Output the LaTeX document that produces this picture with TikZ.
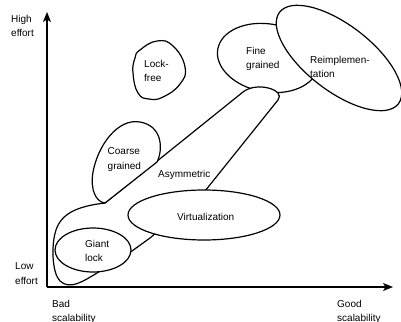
\documentclass[tikz,border=0pt]{standalone}
\usepackage{fontspec}
\setmainfont{Liberation Sans}
\usetikzlibrary{arrows.meta}

\begin{document}
\begin{tikzpicture}[x=1pt, y=-1pt, line join=round,
    blob/.style={draw=black, line width=1.2pt, fill=white},
    axis/.style={draw=black, line width=1.2pt, -{Stealth[length=10pt,width=8pt,inset=2.5pt]}},
    lbl/.style={font=\fontsize{10}{14.5}\selectfont, align=left, inner sep=0pt, anchor=north west}]
\useasboundingbox (0,0) rectangle (401,321);

    % axes
    \coordinate (origin) at (47,287);
    \coordinate (ytip) at (47,12);
    \coordinate (xtip) at (393,287);
    \draw[axis] (origin) -- (ytip);
    \draw[axis] (origin) -- (xtip);

    \node[lbl] (high) at (11,14.7) {High\\effort};
    \node[lbl] (low) at (15,262.7) {Low\\effort};
    \node[lbl] (bad) at (52,299.7) {Bad\\scalability};
    \node[lbl] (good) at (337,299.7) {Good\\scalability};

    % regions
    \draw[blob] (268,58) ellipse [x radius=51, y radius=34, rotate=-10];
    \draw[blob] (339,58) ellipse [x radius=75, y radius=33, rotate=-37.6];
    \draw[blob] (105,203) -- (243,92) .. controls +(14,-11) and +(8,-10) .. (278,100)
        -- (205,191) -- (150,238) -- (132,251) -- (97,273)
        .. controls (82,282) and (70,290) .. (60,281)
        .. controls (52,273) and (51,245) .. (56,230)
        .. controls (62,212) and (80,206) .. (105,203) -- cycle;
    \draw[blob] (105,203) -- (157,162) .. controls (163,150) and (163,126) .. (140,122)
        .. controls (118,118) and (98,145) .. (93,172)
        .. controls (90,190) and (96,202) .. (105,203) -- cycle;
    \draw[blob] (93,250) ellipse [x radius=38, y radius=22];
    \draw[blob] (204,215) ellipse [x radius=76, y radius=25];
    \draw[blob] plot[smooth cycle, tension=0.8] coordinates {(140,50) (157,41) (173,46) (185,67)
        (180,84) (163,97) (149,99) (138,93) (133,73) (135,58)};

    \node[lbl] (lockfree) at (144,59.7) {Lock-\\free};
    \node[lbl] (coarse) at (107.5,147.7) {Coarse\\grained};
    \node[lbl] (asym) at (158,169.7) {Asymmetric};
    \node[lbl] (virt) at (177,212.7) {Virtualization};
    \node[lbl] (fine) at (246,46.7) {Fine\\grained};
    \node[lbl] (reimpl) at (310,55.7) {Reimplemen-\\tation};
    \node[lbl] (giant) at (85,239.7) {Giant\\lock};
\end{tikzpicture}
\end{document}
